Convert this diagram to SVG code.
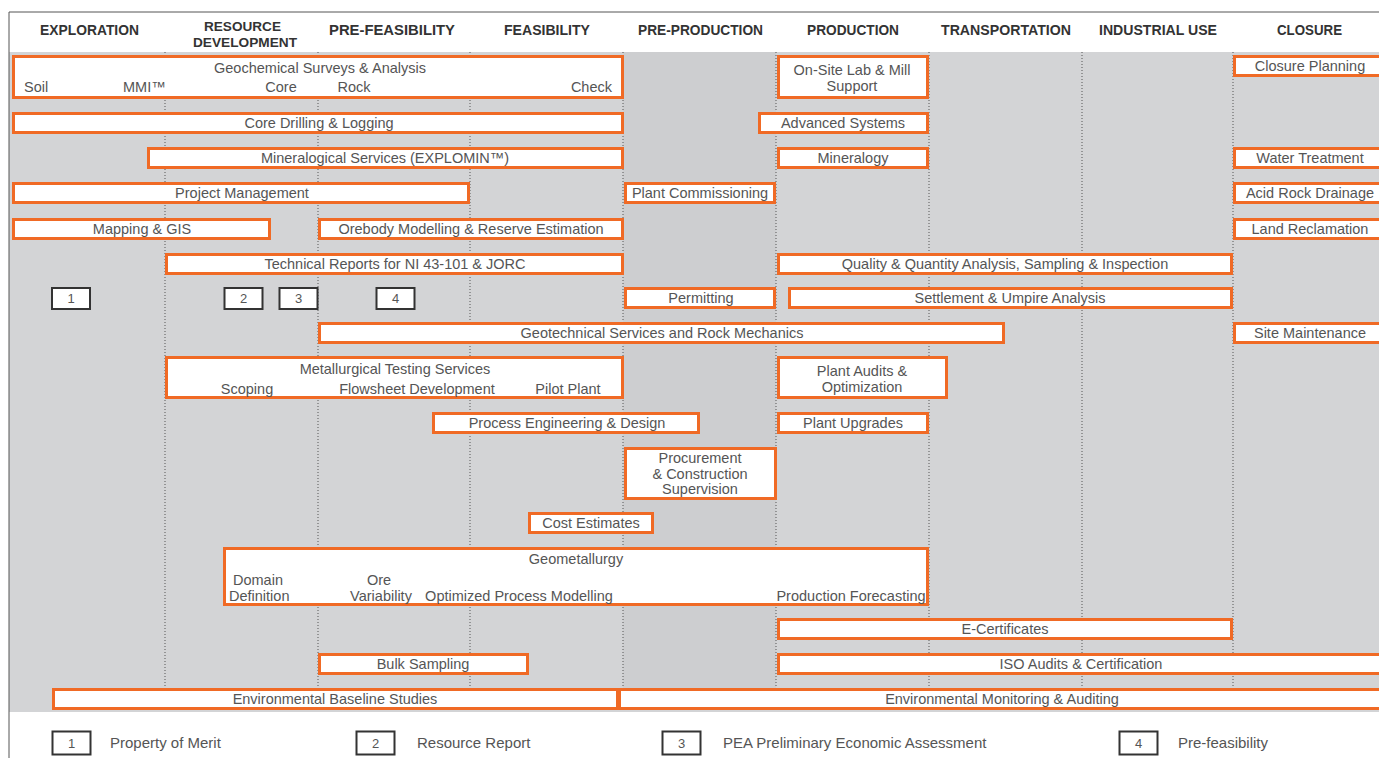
<svg xmlns="http://www.w3.org/2000/svg" width="1379" height="758" viewBox="0 0 1379 758">
<style>
.bar{fill:#fff;stroke:#f06a25;stroke-width:3}
.t{font-family:"Liberation Sans",Arial,sans-serif;font-size:14.5px;fill:#555;text-anchor:middle}
.s{text-anchor:start}
.e{text-anchor:end}
.h{font-family:"Liberation Sans",Arial,sans-serif;font-weight:bold;font-size:15px;fill:#333;text-anchor:middle}
.h2{font-size:13.5px}
.nb{fill:#fff;stroke:#333;stroke-width:2}
.n{font-family:"Liberation Sans",Arial,sans-serif;font-size:13px;fill:#555;text-anchor:middle}
.lg{font-family:"Liberation Sans",Arial,sans-serif;font-size:15px;fill:#555}
.div{stroke:#555;stroke-width:1;stroke-dasharray:1 2}
</style>
<rect width="1379" height="758" fill="#fff"/>
<g id="background">
<rect x="9" y="52" width="1370" height="660" fill="#d3d4d6"/>
<rect x="623" y="52" width="153" height="636" fill="#cdced0"/>
<line x1="9" y1="12" x2="1379" y2="12" stroke="#555" stroke-width="1"/>
<line x1="9" y1="12" x2="9" y2="758" stroke="#555" stroke-width="1"/>
</g>
<g id="headers">
<text class="h" x="89.5" y="35" textLength="99" lengthAdjust="spacingAndGlyphs">EXPLORATION</text>
<text class="h h2" x="242.5" y="31" textLength="77" lengthAdjust="spacingAndGlyphs">RESOURCE</text>
<text class="h h2" x="245" y="47" textLength="104" lengthAdjust="spacingAndGlyphs">DEVELOPMENT</text>
<text class="h" x="392" y="35" textLength="126" lengthAdjust="spacingAndGlyphs">PRE-FEASIBILITY</text>
<text class="h" x="547" y="35" textLength="86" lengthAdjust="spacingAndGlyphs">FEASIBILITY</text>
<text class="h" x="700.5" y="35" textLength="125" lengthAdjust="spacingAndGlyphs">PRE-PRODUCTION</text>
<text class="h" x="853" y="35" textLength="92" lengthAdjust="spacingAndGlyphs">PRODUCTION</text>
<text class="h" x="1006" y="35" textLength="130" lengthAdjust="spacingAndGlyphs">TRANSPORTATION</text>
<text class="h" x="1158" y="35" textLength="118" lengthAdjust="spacingAndGlyphs">INDUSTRIAL USE</text>
<text class="h" x="1309.5" y="35" textLength="65" lengthAdjust="spacingAndGlyphs">CLOSURE</text>
</g>
<g id="grid">
<line class="div" x1="165" y1="52" x2="165" y2="688"/>
<line class="div" x1="318" y1="52" x2="318" y2="688"/>
<line class="div" x1="470" y1="52" x2="470" y2="688"/>
<line class="div" x1="623" y1="52" x2="623" y2="688"/>
<line class="div" x1="776" y1="52" x2="776" y2="688"/>
<line class="div" x1="929" y1="52" x2="929" y2="688"/>
<line class="div" x1="1082" y1="52" x2="1082" y2="688"/>
<line class="div" x1="1233" y1="52" x2="1233" y2="688"/>
</g>
<g id="connectors"/>
<g id="geochemical"><rect class="bar" x="13.5" y="56.5" width="609" height="41"/>
<text class="t" x="320" y="73">Geochemical Surveys &amp; Analysis</text>
<text class="t s" x="24" y="92">Soil</text>
<text class="t s" x="123" y="92">MMI™</text>
<text class="t" x="281" y="92">Core</text>
<text class="t" x="354" y="92">Rock</text>
<text class="t e" x="612" y="92">Check</text></g>
<g id="onsite-lab"><rect class="bar" x="778.5" y="56.5" width="149" height="41"/>
<text class="t" x="852" y="75">On-Site Lab &amp; Mill</text>
<text class="t" x="852" y="91">Support</text></g>
<g id="closure-planning"><rect class="bar" x="1234.5" y="56.5" width="150" height="19"/>
<text class="t" x="1310" y="71">Closure Planning</text></g>
<g id="core-drilling"><rect class="bar" x="13.5" y="113.5" width="609" height="19"/>
<text class="t" x="319" y="128">Core Drilling &amp; Logging</text></g>
<g id="advanced-systems"><rect class="bar" x="759.5" y="113.5" width="168" height="19"/>
<text class="t" x="843" y="128">Advanced Systems</text></g>
<g id="mineralogical"><rect class="bar" x="148.5" y="148.5" width="474" height="19"/>
<text class="t" x="385" y="163">Mineralogical  Services (EXPLOMIN™)</text></g>
<g id="mineralogy"><rect class="bar" x="778.5" y="148.5" width="149" height="19"/>
<text class="t" x="853" y="163">Mineralogy</text></g>
<g id="water-treatment"><rect class="bar" x="1234.5" y="148.5" width="150" height="19"/>
<text class="t" x="1310" y="163">Water Treatment</text></g>
<g id="project-management"><rect class="bar" x="13.5" y="183.5" width="455" height="19"/>
<text class="t" x="242" y="198">Project Management</text></g>
<g id="plant-commissioning"><rect class="bar" x="625.5" y="183.5" width="149" height="19"/>
<text class="t" x="700" y="198">Plant Commissioning</text></g>
<g id="acid-rock"><rect class="bar" x="1234.5" y="183.5" width="150" height="19"/>
<text class="t" x="1310" y="198">Acid Rock Drainage</text></g>
<g id="mapping"><rect class="bar" x="13.5" y="219.5" width="256" height="19"/>
<text class="t" x="142" y="234">Mapping &amp; GIS</text></g>
<g id="orebody"><rect class="bar" x="319.5" y="219.5" width="303" height="19"/>
<text class="t" x="471" y="234">Orebody Modelling &amp; Reserve Estimation</text></g>
<g id="land-reclamation"><rect class="bar" x="1234.5" y="219.5" width="150" height="19"/>
<text class="t" x="1310" y="234">Land Reclamation</text></g>
<g id="technical-reports"><rect class="bar" x="166.5" y="254.5" width="456" height="19"/>
<text class="t" x="395" y="269">Technical Reports for NI 43-101 &amp; JORC</text></g>
<g id="quality"><rect class="bar" x="778.5" y="254.5" width="453" height="19"/>
<text class="t" x="1005" y="269">Quality &amp; Quantity Analysis, Sampling &amp; Inspection</text></g>
<g id="box-1"><rect class="nb" x="52" y="288" width="38" height="21"/><text class="n" x="71" y="303">1</text></g>
<g id="box-2"><rect class="nb" x="224.5" y="288" width="38" height="21"/><text class="n" x="243.5" y="303">2</text></g>
<g id="box-3"><rect class="nb" x="279.5" y="288" width="38" height="21"/><text class="n" x="298.5" y="303">3</text></g>
<g id="box-4"><rect class="nb" x="376.5" y="288" width="38" height="21"/><text class="n" x="395.5" y="303">4</text></g>
<g id="permitting"><rect class="bar" x="625.5" y="288.5" width="149" height="19"/>
<text class="t" x="701" y="303">Permitting</text></g>
<g id="settlement"><rect class="bar" x="789.5" y="288.5" width="442" height="19"/>
<text class="t" x="1010" y="303">Settlement &amp; Umpire Analysis</text></g>
<g id="geotechnical"><rect class="bar" x="319.5" y="323.5" width="684" height="19"/>
<text class="t" x="662" y="338">Geotechnical Services and Rock Mechanics</text></g>
<g id="site-maintenance"><rect class="bar" x="1234.5" y="323.5" width="150" height="19"/>
<text class="t" x="1310" y="338">Site Maintenance</text></g>
<g id="metallurgical"><rect class="bar" x="166.5" y="357.5" width="456" height="40"/>
<text class="t" x="395" y="374">Metallurgical Testing Services</text>
<text class="t" x="247" y="394">Scoping</text>
<text class="t" x="417" y="394">Flowsheet Development</text>
<text class="t" x="568" y="394">Pilot Plant</text></g>
<g id="plant-audits"><rect class="bar" x="778.5" y="357.5" width="168" height="40"/>
<text class="t" x="862" y="376">Plant Audits &amp;</text>
<text class="t" x="862" y="392">Optimization</text></g>
<g id="process-engineering"><rect class="bar" x="433.5" y="413.5" width="265" height="19"/>
<text class="t" x="567" y="428">Process Engineering &amp; Design</text></g>
<g id="plant-upgrades"><rect class="bar" x="778.5" y="413.5" width="149" height="19"/>
<text class="t" x="853" y="428">Plant Upgrades</text></g>
<g id="procurement"><rect class="bar" x="625.5" y="448.5" width="150" height="50"/>
<text class="t" x="700" y="463">Procurement</text>
<text class="t" x="700" y="479">&amp; Construction</text>
<text class="t" x="700" y="494">Supervision</text></g>
<g id="cost-estimates"><rect class="bar" x="529.5" y="513.5" width="123" height="19"/>
<text class="t" x="591" y="528">Cost Estimates</text></g>
<g id="geometallurgy"><rect class="bar" x="224.5" y="548.5" width="703" height="56"/>
<text class="t" x="576" y="564">Geometallurgy</text>
<text class="t s" x="233" y="585">Domain</text>
<text class="t s" x="229" y="601">Definition</text>
<text class="t" x="379" y="585">Ore</text>
<text class="t" x="381" y="601">Variability</text>
<text class="t" x="519" y="601">Optimized Process Modelling</text>
<text class="t" x="851" y="601">Production Forecasting</text></g>
<g id="e-certificates"><rect class="bar" x="778.5" y="619.5" width="453" height="19"/>
<text class="t" x="1005" y="634">E-Certificates</text></g>
<g id="bulk-sampling"><rect class="bar" x="319.5" y="654.5" width="208" height="19"/>
<text class="t" x="423" y="669">Bulk Sampling</text></g>
<g id="iso-audits"><rect class="bar" x="778.5" y="654.5" width="606" height="19"/>
<text class="t" x="1081" y="669">ISO Audits &amp; Certification</text></g>
<g id="env-baseline"><rect class="bar" x="53.5" y="689.5" width="564" height="19"/>
<text class="t" x="335" y="704">Environmental Baseline Studies</text></g>
<g id="env-monitoring"><rect class="bar" x="619.5" y="689.5" width="765" height="19"/>
<text class="t" x="1002" y="704">Environmental Monitoring &amp; Auditing</text></g>
<g id="legend">
<rect class="nb" x="52.5" y="731.5" width="38" height="23"/><text class="n" x="71.5" y="748">1</text>
<text class="lg" x="110" y="748">Property of Merit</text>
<rect class="nb" x="356.5" y="731.5" width="38" height="23"/><text class="n" x="375.5" y="748">2</text>
<text class="lg" x="417" y="748">Resource Report</text>
<rect class="nb" x="662.5" y="731.5" width="38" height="23"/><text class="n" x="681.5" y="748">3</text>
<text class="lg" x="723" y="748">PEA Preliminary Economic Assessment</text>
<rect class="nb" x="1119.5" y="731.5" width="38" height="23"/><text class="n" x="1138.5" y="748">4</text>
<text class="lg" x="1178" y="748">Pre-feasibility</text>
</g>
</svg>
